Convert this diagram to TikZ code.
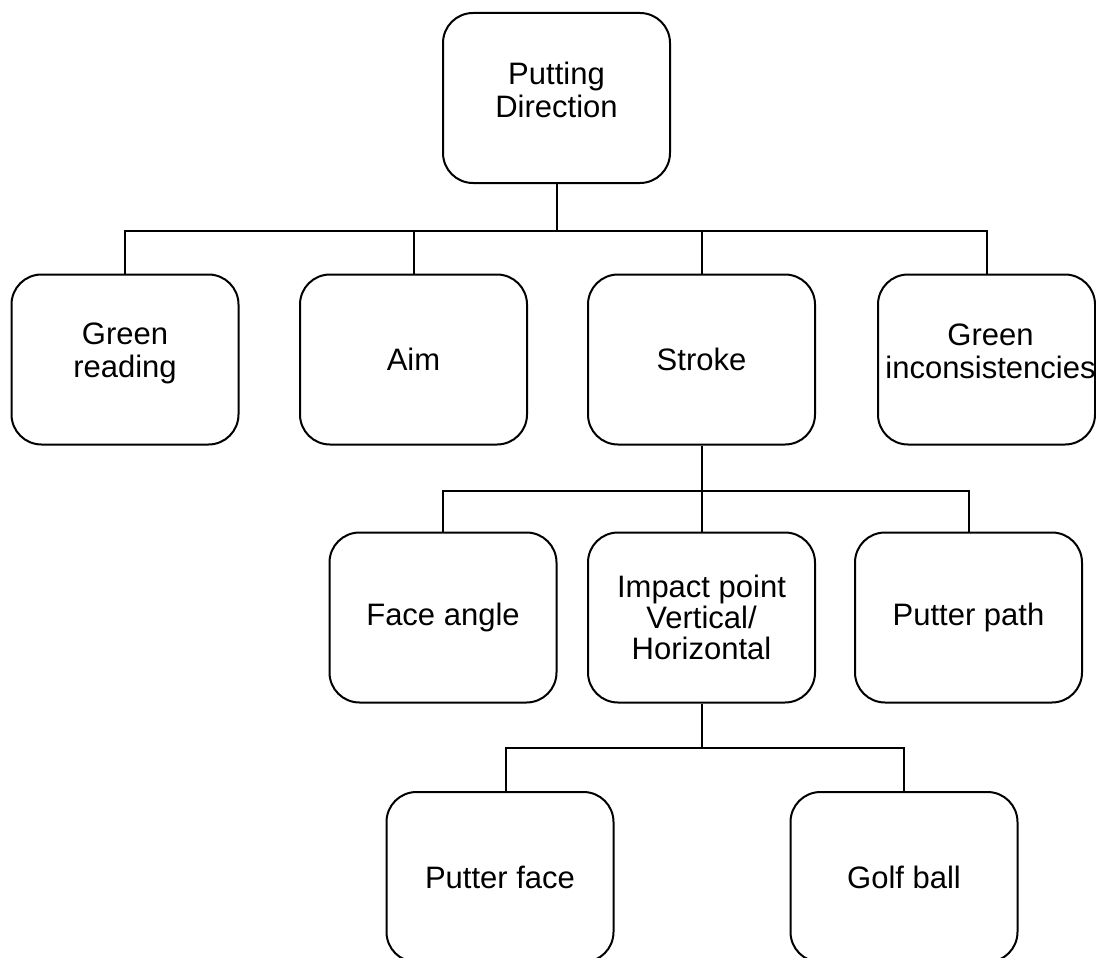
\documentclass[tikz,border=0pt]{standalone}
\usepackage{fontspec}
\setmainfont{Liberation Sans}
\begin{document}
\begin{tikzpicture}[x=1pt,y=-1pt,
  box/.style={draw=black, line width=2pt, rounded corners=30pt, fill=white,
    minimum width=227pt, minimum height=170pt, inner sep=0pt,
    align=center, font=\fontsize{31}{31}\selectfont},
  txt/.style={inner sep=0pt, align=center, font=\fontsize{31}{33}\selectfont},
  link/.style={draw=black, line width=2pt}]
\useasboundingbox[fill=white] (0,0) rectangle (1096,958);
\node[box] (top) at (556.5,98) {};
\node[txt] (topt) at ([yshift=8pt]top.center) {Putting\\Direction};
\node[box] (gr) at (125,359.5) {};
\node[txt] (grt) at ([yshift=6pt]gr.center) {Green\\reading};
\node[box] (aim) at (413.5,359.5) {Aim};
\node[box] (stroke) at (701.5,359.5) {Stroke};
\node[box, minimum width=217pt] (gi) at (986.5,359.5) {};
\node[txt] (git) at ([xshift=4pt,yshift=8pt]gi.center) {Green\\inconsistencies};
\node[box] (fa) at (443,617.5) {Face angle};
\node[box] (ip) at (701.5,617.5) {Impact point\\Vertical/\\Horizontal};
\node[box] (pp) at (968.5,617.5) {Putter path};
\node[box] (pf) at (500,877) {Putter face};
\node[box] (gb) at (904,877) {Golf ball};
\foreach \c in {gr,aim,stroke,gi}
  \draw[link] (top.south) -- ++(0,47) -| (\c.north);
\foreach \c in {fa,ip,pp}
  \draw[link] (stroke.south) -- ++(0,45) -| (\c.north);
\draw[link] (ip.south) -- ++(0,44) -| ([xshift=6pt]pf.north);
\draw[link] (ip.south) -- ++(0,44) -| (gb.north);
\end{tikzpicture}
\end{document}
